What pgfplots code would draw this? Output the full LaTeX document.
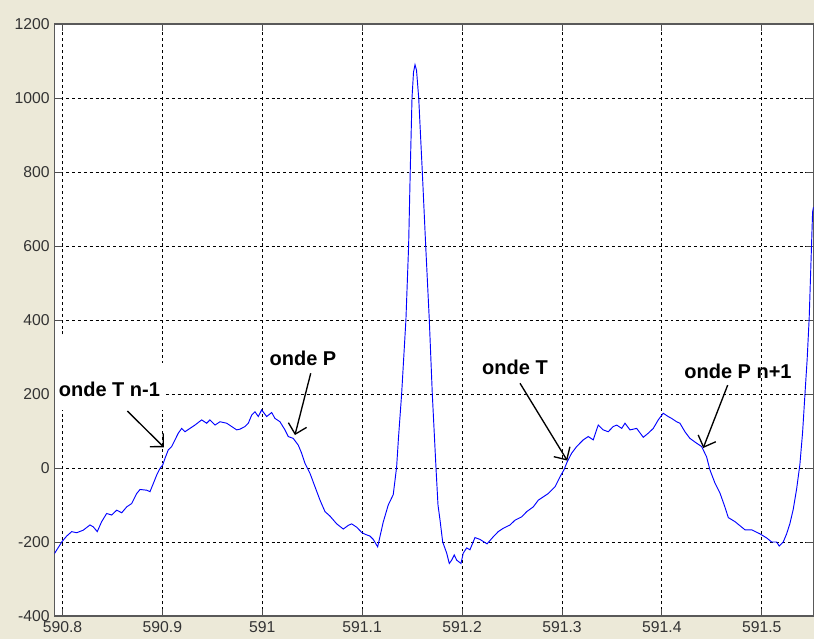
\documentclass[border=0pt]{standalone}
\usepackage{pgfplots}
\pgfplotsset{compat=1.18}
\usepackage{fontspec}
\setmainfont{Liberation Sans}
\usetikzlibrary{arrows.meta}
\definecolor{bgxp}{RGB}{236,233,216}
\definecolor{ecg}{RGB}{0,0,255}
\begin{document}
\begin{tikzpicture}
\fill[bgxp] (0,0) rectangle (610.5pt,479.25pt);
\begin{axis}[
  at={(40.875pt,17.25pt)}, anchor=south west,
  width=569.25pt, height=444pt, scale only axis,
  xmin=590.792, xmax=591.5518, ymin=-400, ymax=1200,
  xtick={590.8,590.9,591,591.1,591.2,591.3,591.4,591.5},
  xticklabels={590.8,590.9,591,591.1,591.2,591.3,591.4,591.5},
  ytick={-400,-200,0,200,400,600,800,1000,1200},
  yticklabels={-400,-200,0,200,400,600,800,1000,1200},
  grid=major,
  major grid style={black, line width=0.55pt, dash pattern=on 2.2pt off 2.2pt},
  tick align=inside, major tick length=5.5pt,
  xtick pos=both, ytick pos=both,
  tick style={black!70, line width=0.6pt},
  axis line style={black!65, line width=0.8pt},
  axis background/.style={fill=white},
  tick label style={font=\fontsize{11.8}{13}\selectfont, text=black!80},
  xticklabel shift=0.8pt,
  yticklabel shift=0.2pt,
  clip=true,
]
\addplot[ecg, line width=0.7pt] coordinates {
(590.7918,-232) (590.7995,-199) (590.8042,-184) (590.8092,-172) (590.8142,-175)
(590.8208,-168) (590.8275,-154) (590.8308,-159) (590.8348,-172) (590.8392,-145)
(590.8442,-123) (590.8492,-127) (590.8543,-114) (590.8593,-121) (590.8643,-105)
(590.8693,-96) (590.8743,-69) (590.8776,-58) (590.8843,-60) (590.8876,-64)
(590.8909,-42) (590.8943,-19) (590.8976,-1) (590.9003,8) (590.9026,26)
(590.9059,49) (590.9093,58) (590.9126,76) (590.9159,94) (590.9193,107)
(590.9226,98) (590.9276,107) (590.9326,116) (590.9393,130) (590.9443,121)
(590.9476,130) (590.9527,116) (590.9577,125) (590.9644,121) (590.9694,112)
(590.9744,103) (590.9777,105) (590.9827,112) (590.9860,121) (590.9894,143)
(590.9927,152) (590.9960,139) (590.9994,157) (591.0044,139) (591.0094,150)
(591.0127,134) (591.0177,125) (591.0227,103) (591.0260,85) (591.0310,80)
(591.0360,62) (591.0394,40) (591.0427,13) (591.0477,-14) (591.0528,-51)
(591.0578,-87) (591.0628,-118) (591.0678,-130) (591.0745,-151) (591.0811,-165)
(591.0861,-155) (591.0895,-151) (591.0945,-160) (591.0995,-174) (591.1028,-179)
(591.1078,-184) (591.1111,-193) (591.1155,-213) (591.1211,-146) (591.1261,-100)
(591.1311,-72) (591.1345,3) (591.1363,80) (591.1395,200) (591.1438,401)
(591.1465,601) (591.1481,801) (591.1499,1001) (591.1514,1070) (591.1529,1090)
(591.1544,1075) (591.1566,1000) (591.1602,800) (591.1636,600) (591.1672,400)
(591.1702,200) (591.1739,0) (591.1759,-100) (591.1779,-140) (591.1806,-200)
(591.1846,-230) (591.1872,-258) (591.1896,-249) (591.1922,-235) (591.1946,-249)
(591.1989,-258) (591.2012,-230) (591.2046,-216) (591.2079,-221) (591.2129,-188)
(591.2179,-193) (591.2250,-205) (591.2312,-186) (591.2362,-172) (591.2412,-163)
(591.2480,-154) (591.2530,-141) (591.2597,-132) (591.2647,-118) (591.2713,-105)
(591.2763,-87) (591.2813,-78) (591.2863,-69) (591.2930,-51) (591.2980,-24)
(591.3020,-5) (591.3053,17) (591.3097,40) (591.3147,58) (591.3213,76)
(591.3263,85) (591.3313,76) (591.3363,116) (591.3413,103) (591.3463,98)
(591.3513,112) (591.3548,116) (591.3598,107) (591.3631,121) (591.3681,103)
(591.3748,107) (591.3814,83) (591.3864,94) (591.3914,107) (591.3964,130)
(591.4014,148) (591.4064,139) (591.4098,134) (591.4148,125) (591.4181,121)
(591.4231,98) (591.4281,80) (591.4348,67) (591.4398,58) (591.4448,30)
(591.4481,-5) (591.4532,-41) (591.4582,-68) (591.4632,-106) (591.4665,-134)
(591.4732,-145) (591.4782,-156) (591.4832,-167) (591.4899,-167) (591.4982,-178)
(591.5049,-189) (591.5099,-200) (591.5149,-200) (591.5175,-211) (591.5215,-200)
(591.5249,-178) (591.5282,-150) (591.5315,-112) (591.5349,-57) (591.5382,10)
(591.5409,97) (591.5432,197) (591.5455,296) (591.5475,406) (591.5492,549)
(591.5509,692) (591.5518,705)
};
% white box behind first annotation
\fill[white] (axis cs:590.792,157) rectangle (axis cs:590.9026,284);
\fill[white] (axis cs:590.792,280) rectangle (axis cs:590.830,358);
\node[font=\fontsize{15}{17}\selectfont\bfseries] at (axis cs:590.8470,213) {onde T n-1};
\draw[line width=1pt, -{Straight Barb[angle=90:10pt]}] (axis cs:590.8649,154) -- (axis cs:590.9016,56);
\node[font=\fontsize{15}{17}\selectfont\bfseries] at (axis cs:591.0407,295) {onde P};
\draw[line width=1pt, -{Straight Barb[angle=90:10pt]}] (axis cs:591.0485,256) -- (axis cs:591.0327,89);
\node[font=\fontsize{15}{17}\selectfont\bfseries] at (axis cs:591.2530,272) {onde T};
\draw[line width=1pt, -{Straight Barb[angle=90:10pt]}] (axis cs:591.2580,229) -- (axis cs:591.3053,20);
\node[font=\fontsize{15}{17}\selectfont\bfseries] at (axis cs:591.4762,262) {onde P n+1};
\draw[line width=1pt, -{Straight Barb[angle=90:10pt]}] (axis cs:591.4659,224) -- (axis cs:591.4414,54);
\end{axis}
\pgfresetboundingbox
\useasboundingbox (0,0) rectangle (610.5pt,479.25pt);
\end{tikzpicture}
\end{document}
